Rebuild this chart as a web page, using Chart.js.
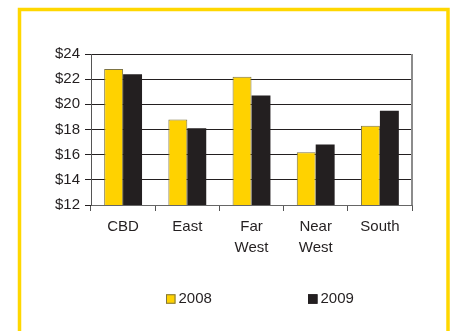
<!DOCTYPE html>
<html>
<head>
<meta charset="utf-8">
<script src="https://cdn.jsdelivr.net/npm/chart.js@4/dist/chart.umd.min.js"></script>
<style>
  html, body { margin: 0; padding: 0; background: #ffffff; }
  #wrap { width: 451px; height: 331px; position: relative; }
</style>
</head>
<body>
<div id="wrap"><canvas id="c" width="451" height="331"></canvas></div>
<script>
// Rents by district, $ per square metre
const districts = ["CBD", "East", ["Far", "West"], ["Near", "West"], "South"];
const years = ["2008", "2009"];
const rent2008 = [22.8, 18.8, 22.2, 16.2, 18.3];
const rent2009 = [22.4, 18.1, 20.7, 16.8, 19.5];
const yTicks = [12, 14, 16, 18, 20, 22, 24];

const FONT = "'Liberation Sans', Arial, sans-serif";
const YELLOW = "#FFD200";
const BLACK = "#231F20";

// Yellow panel frame around the whole chart
const framePlugin = {
  id: "frame",
  beforeDraw(chart) {
    const ctx = chart.ctx;
    ctx.save();
    ctx.fillStyle = "#ffffff";
    ctx.fillRect(0, 0, chart.width, chart.height);
    ctx.strokeStyle = "#FFD700";
    ctx.lineWidth = 3.5;
    ctx.strokeRect(19.5, 9.5, 428.5, 400);
    ctx.restore();
  }
};

// Grey right-hand border of the plot area
const plotBorder = {
  id: "plotBorder",
  afterDraw(chart) {
    const a = chart.chartArea;
    const ctx = chart.ctx;
    ctx.save();
    ctx.strokeStyle = "#8c8c8c";
    ctx.lineWidth = 2;
    ctx.beginPath();
    ctx.moveTo(a.right, a.top);
    ctx.lineTo(a.right, a.bottom);
    ctx.stroke();
    ctx.restore();
  }
};

// Widely spaced legend under the axis
const wideLegend = {
  id: "wideLegend",
  afterDraw(chart) {
    const ctx = chart.ctx;
    const startX = 166, gap = 142, y = 299, box = 9.5;
    ctx.save();
    ctx.font = "15px " + FONT;
    ctx.textBaseline = "middle";
    chart.data.datasets.forEach((ds, i) => {
      const x = startX + i * gap;
      ctx.fillStyle = ds.backgroundColor;
      ctx.fillRect(x, y - box / 2, box, box);
      ctx.strokeStyle = ds.borderColor;
      ctx.lineWidth = 1;
      ctx.strokeRect(x + 0.5, y - box / 2 + 0.5, box - 1, box - 1);
      ctx.fillStyle = "#231F20";
      ctx.fillText(ds.label, x + box + 3, y);
    });
    ctx.restore();
  }
};

new Chart(document.getElementById("c"), {
  type: "bar",
  data: {
    labels: districts,
    datasets: [
      { label: years[0], data: rent2008, backgroundColor: YELLOW, borderColor: "#7d7445", borderWidth: 1 },
      { label: years[1], data: rent2009, backgroundColor: BLACK, borderColor: BLACK, borderWidth: 0 }
    ]
  },
  options: {
    responsive: false,
    animation: false,
    devicePixelRatio: 1,
    categoryPercentage: 0.59,
    barPercentage: 1.0,
    layout: { padding: { left: 40, right: 39, top: 54, bottom: 66 } },
    plugins: {
      legend: { display: false },
      tooltip: { enabled: false }
    },
    scales: {
      x: {
        grid: { offset: true, drawOnChartArea: false, color: "#555555", tickLength: 6 },
        border: { color: "#666666", width: 1 },
        ticks: { color: "#231F20", font: { family: FONT, size: 15, lineHeight: 1.4 }, padding: 5, maxRotation: 0, autoSkip: false },
        afterFit(scale) { scale.height = 60; }
      },
      y: {
        min: yTicks[0],
        max: yTicks[yTicks.length - 1],
        afterBuildTicks(scale) { scale.ticks = yTicks.map(v => ({ value: v })); },
        grid: { color: "#231F20", lineWidth: 1, tickLength: 6 },
        border: { color: "#555555", width: 1 },
        ticks: {
          color: "#231F20",
          font: { family: FONT, size: 15 },
          padding: 5,
          callback: v => "$" + v
        },
        afterFit(scale) { scale.width = 51; }
      }
    }
  },
  plugins: [framePlugin, plotBorder, wideLegend]
});
</script>
</body>
</html>
